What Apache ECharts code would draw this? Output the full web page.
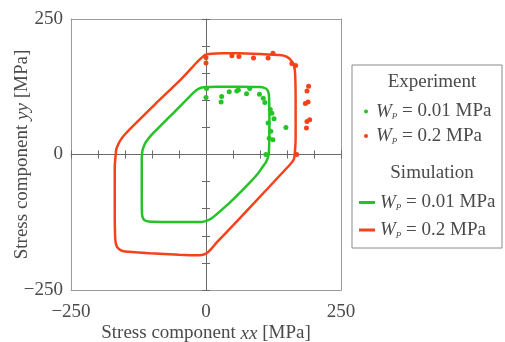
<!DOCTYPE html>
<html>
<head>
<meta charset="utf-8">
<script src="https://cdn.jsdelivr.net/npm/echarts@6/dist/echarts.min.js"></script>
<style>
  html, body { margin: 0; padding: 0; background: #fff; }
  #chart { width: 505px; height: 342px; }
</style>
</head>
<body>
<div id="chart"></div>
<script>
// experiment points, W_P = 0.01 MPa
const expLow = [
  [1, 122], [0, 105], [29, 107], [28, 97], [43, 116], [57, 117], [60, 119],
  [75, 112], [81, 122], [99, 111], [106, 104], [109, 96], [119, 83], [122, 76],
  [126, 66], [115, 58], [120, 43], [148, 50], [117, 30], [124, 27], [111, 0]
];
// experiment points, W_P = 0.2 MPa
const expHigh = [
  [0, 179], [0, 169], [48, 182], [61, 181], [88, 178], [115, 178], [124, 187],
  [159, 168], [166, 164], [190, 126], [187, 117], [184, 94], [189, 97],
  [192, 64], [187, 61], [186, 49], [168, 0]
];
// simulation loop, W_P = 0.01 MPa
const simLow = [
  [0, 124.5], [20, 125], [60, 125], [100, 124.5], [108, 123], [113, 120], [116, 113],
  [117, 100], [117.5, 60], [117, 20], [116.5, 5], [115, -5], [111, -14], [104, -24],
  [97, -34], [81, -52], [45, -88], [20, -110], [10, -118], [2, -122], [-8, -124.5],
  [-60, -124.5], [-100, -124], [-110, -123], [-116, -119], [-118.5, -110], [-119, -60],
  [-119, -9], [-118, 5], [-116, 13], [-112, 22], [-106, 30], [-100, 37], [-64, 73],
  [-20, 117], [-12, 122], [-5, 124], [0, 124.5]
];
// simulation loop, W_P = 0.2 MPa
const simHigh = [
  [0, 185], [30, 187], [60, 187], [100, 185.5], [140, 183], [150, 180], [158, 173],
  [163, 163], [165, 150], [166, 100], [166, 30], [165, 10], [163, -8], [156, -18],
  [112, -65], [51, -130], [20, -162], [8, -176], [0, -183], [-11, -186],
  [-50, -185], [-104, -182], [-150, -179], [-159, -176], [-165, -170], [-168, -157],
  [-169, -100], [-169, -22], [-168, -9], [-166, 10], [-162, 20], [-158, 27], [-152, 35],
  [-141, 47], [-94, 93], [-45, 140], [-20, 167], [-10, 177], [-4, 182], [0, 185]
];
const wpValues = ['0.01', '0.2'];
const seriesNames = ['Exp 0.01', 'Exp 0.2', 'Sim 0.01', 'Sim 0.2'];

const GREEN = '#25c325';
const RED = '#f5421a';
const TXT = '#4a4a4a';
const FRAME = '#9a9a9a';
const AXC = '#6a6a6a';
const FONT = 'Liberation Serif';
const FS = 19;

const chart = echarts.init(document.getElementById('chart'));

const fmtLabel = (v) => (v < 0 ? '\u2212' + (-v) : String(v));
const legendRich = {
  w: { fontStyle: 'italic', fontSize: FS, lineHeight: 20, fontFamily: FONT, color: TXT },
  p: { fontStyle: 'italic', fontSize: 9, lineHeight: 9, verticalAlign: 'bottom', fontFamily: FONT, color: TXT },
  t: { fontSize: FS, lineHeight: 20, fontFamily: FONT, color: TXT }
};
const legendFmt = (name) => {
  const v = name.indexOf('0.01') >= 0 ? wpValues[0] : wpValues[1];
  return '{w|W}{p|P}{t| = ' + v + ' MPa}';
};

const zeroAxisBase = {
  min: -250, max: 250, interval: 50,
  axisLabel: { show: false },
  splitLine: { show: false }
};
// plain frame edge (top / right)
const frameAxis = (pos) => ({
  type: 'value', min: -250, max: 250, position: pos,
  axisLine: { show: true, onZero: false, lineStyle: { color: FRAME, width: 1 } },
  axisTick: { show: false }, axisLabel: { show: false }, splitLine: { show: false }
});
const nameStyle = {
  fontSize: FS, color: TXT, fontFamily: FONT,
  rich: { i: { fontStyle: 'italic', fontSize: FS, color: TXT, fontFamily: FONT } }
};

const option = {
  animation: false,
  textStyle: { fontFamily: FONT },
  grid: {
    left: 71, right: 164, top: 19, bottom: 52,
    outerBoundsMode: 'none', containLabel: false
  },
  xAxis: [
    {
      type: 'value', min: -250, max: 250, interval: 250, position: 'bottom',
      axisLine: { show: true, onZero: false, lineStyle: { color: FRAME, width: 1 } },
      axisTick: { show: false },
      splitLine: { show: false },
      axisLabel: { fontSize: FS, color: TXT, fontFamily: FONT, margin: 13, formatter: fmtLabel },
      name: 'Stress component {i|xx} [MPa]',
      nameLocation: 'middle', nameGap: 34, nameMoveOverlap: false,
      nameTextStyle: nameStyle
    },
    Object.assign({ type: 'value', position: 'bottom',
      axisLine: { show: true, onZero: true, lineStyle: { color: AXC, width: 1 } },
      axisTick: { show: true, inside: false, length: 4, lineStyle: { color: AXC } } }, zeroAxisBase),
    Object.assign({ type: 'value', position: 'bottom',
      axisLine: { show: false, onZero: true },
      axisTick: { show: true, inside: true, length: 4, lineStyle: { color: AXC } } }, zeroAxisBase),
    frameAxis('top')
  ],
  yAxis: [
    {
      type: 'value', min: -250, max: 250, interval: 250, position: 'left',
      axisLine: { show: true, onZero: false, lineStyle: { color: FRAME, width: 1 } },
      axisTick: { show: false },
      splitLine: { show: false },
      axisLabel: { fontSize: FS, color: TXT, fontFamily: FONT, margin: 8, formatter: fmtLabel },
      name: 'Stress component {i|yy} [MPa]',
      nameLocation: 'middle', nameGap: 39, nameMoveOverlap: false,
      nameTextStyle: nameStyle
    },
    Object.assign({ type: 'value', position: 'left',
      axisLine: { show: true, onZero: true, lineStyle: { color: AXC, width: 1 } },
      axisTick: { show: true, inside: false, length: 4, lineStyle: { color: AXC } } }, zeroAxisBase),
    Object.assign({ type: 'value', position: 'left',
      axisLine: { show: false, onZero: true },
      axisTick: { show: true, inside: true, length: 4, lineStyle: { color: AXC } } }, zeroAxisBase),
    frameAxis('right')
  ],
  legend: [
    {
      orient: 'vertical', left: 364, top: 102, padding: 0, itemGap: 5,
      itemWidth: 10, itemHeight: 4,
      data: [{ name: seriesNames[0], icon: 'circle' }, { name: seriesNames[1], icon: 'circle' }],
      formatter: legendFmt,
      textStyle: { rich: legendRich, color: TXT }
    },
    {
      orient: 'vertical', left: 359, top: 193, padding: 0, itemGap: 8,
      itemWidth: 16, itemHeight: 3,
      data: [{ name: seriesNames[2], icon: 'rect' }, { name: seriesNames[3], icon: 'rect' }],
      formatter: legendFmt,
      textStyle: { rich: legendRich, color: TXT }
    }
  ],
  graphic: [
    { type: 'rect', shape: { x: 352, y: 65, width: 150, height: 183 },
      style: { fill: 'none', stroke: '#8a8a8a', lineWidth: 1 } },
    { type: 'text', x: 432, y: 82,
      style: { text: 'Experiment', fontSize: FS, fontFamily: FONT, fill: TXT, align: 'center', verticalAlign: 'middle' } },
    { type: 'text', x: 432, y: 173,
      style: { text: 'Simulation', fontSize: FS, fontFamily: FONT, fill: TXT, align: 'center', verticalAlign: 'middle' } }
  ],
  series: [
    {
      name: seriesNames[2], type: 'line', data: simLow, showSymbol: false, smooth: 0.2,
      lineStyle: { color: GREEN, width: 2.5 }, itemStyle: { color: GREEN }, z: 2
    },
    {
      name: seriesNames[3], type: 'line', data: simHigh, showSymbol: false, smooth: 0.2,
      lineStyle: { color: RED, width: 2.5 }, itemStyle: { color: RED }, z: 2
    },
    {
      name: seriesNames[0], type: 'scatter', data: expLow, symbolSize: 5,
      itemStyle: { color: GREEN, opacity: 1 }, z: 3
    },
    {
      name: seriesNames[1], type: 'scatter', data: expHigh, symbolSize: 5,
      itemStyle: { color: RED, opacity: 1 }, z: 3
    }
  ]
};

chart.setOption(option);
</script>
</body>
</html>
